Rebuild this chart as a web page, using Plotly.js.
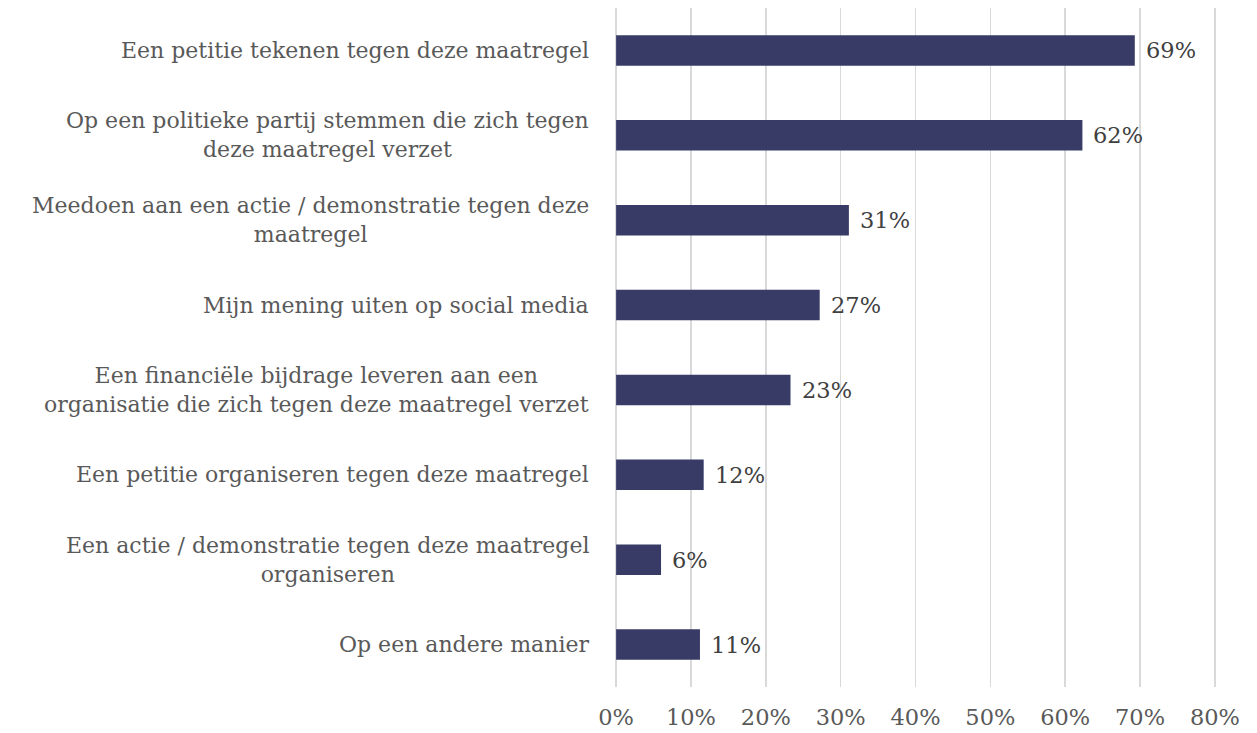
<!DOCTYPE html>
<html>
<head>
<meta charset="utf-8">
<script src="https://cdn.plot.ly/plotly-3.0.1.min.js"></script>
<style>html,body{margin:0;padding:0;background:#fff;}#chart{width:1257px;height:733px;}</style>
</head>
<body>
<div id="chart"></div>
<script>
const categories = [
  "Een petitie tekenen tegen deze maatregel",
  "Op een politieke partij stemmen die zich tegen<br>deze maatregel verzet",
  "Meedoen aan een actie / demonstratie tegen deze<br>maatregel",
  "Mijn mening uiten op social media",
  "Een financiële bijdrage leveren aan een<br>organisatie die zich tegen deze maatregel verzet",
  "Een petitie organiseren tegen deze maatregel",
  "Een actie / demonstratie tegen deze maatregel<br>organiseren",
  "Op een andere manier"
];
const values = [69.3, 62.3, 31.1, 27.2, 23.3, 11.7, 6.0, 11.2];
const tickVals = [0, 10, 20, 30, 40, 50, 60, 70, 80];
const tickText = ["0%", "10%", "20%", "30%", "40%", "50%", "60%", "70%", "80%"];

const FONT = "DejaVu Serif, Liberation Serif, serif";
const ids = categories.map((c, i) => "c" + i);

const trace = {
  type: "bar",
  orientation: "h",
  x: values,
  y: ids,
  marker: {color: "#373b66", line: {width: 0}},
  width: 0.36,
  hoverinfo: "none"
};

const catAnnotations = categories.map((c, i) => ({
  xref: "paper", yref: "y",
  x: 0, y: ids[i],
  xanchor: "right", yanchor: "middle",
  xshift: -24,
  text: c,
  align: "center",
  showarrow: false,
  font: {family: FONT, size: 22, color: "#595959"}
}));

const valueAnnotations = values.map((v, i) => ({
  xref: "x", yref: "y",
  x: v, y: ids[i],
  xanchor: "left", yanchor: "middle",
  xshift: 9,
  text: Math.round(v) + "%",
  showarrow: false,
  font: {family: FONT, size: 22.5, color: "#404040"}
}));

const layout = {
  width: 1257, height: 733,
  margin: {l: 615, r: 41, t: 8, b: 46},
  paper_bgcolor: "#ffffff",
  plot_bgcolor: "#ffffff",
  showlegend: false,
  xaxis: {
    range: [-0.15, 80.15],
    tickvals: tickVals,
    ticktext: tickText,
    showgrid: true,
    gridcolor: "#d9d9d9",
    gridwidth: 1.6,
    zeroline: false,
    showline: false,
    ticks: "",
    ticklabelstandoff: 14,
    tickfont: {family: FONT, size: 22.5, color: "#595959"},
    fixedrange: true
  },
  yaxis: {
    categoryorder: "array",
    categoryarray: ids,
    autorange: "reversed",
    showticklabels: false,
    showgrid: false,
    zeroline: false,
    showline: false,
    ticks: "",
    fixedrange: true
  },
  annotations: catAnnotations.concat(valueAnnotations)
};

Plotly.newPlot("chart", [trace], layout, {displayModeBar: false, staticPlot: true});
</script>
</body>
</html>
